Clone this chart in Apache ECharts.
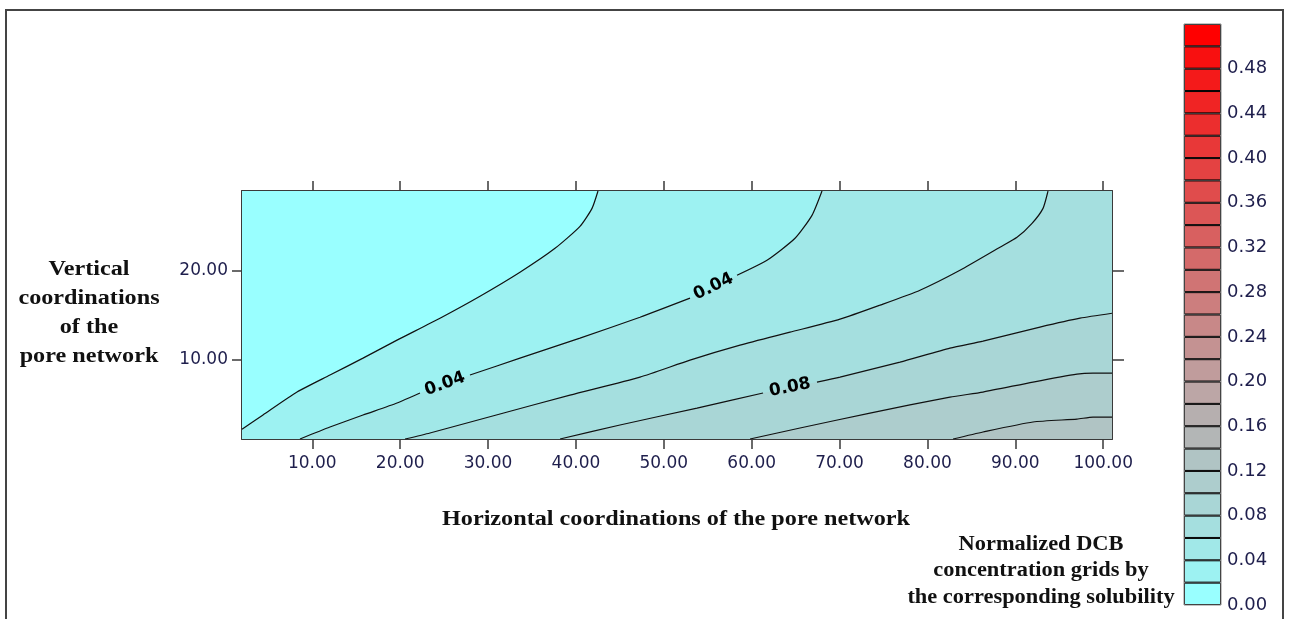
<!DOCTYPE html>
<html>
<head>
<meta charset="utf-8">
<script src="https://cdn.jsdelivr.net/npm/echarts@6/dist/echarts.min.js"></script>
<style>
html,body{margin:0;padding:0;background:#fff;}
#chart{width:1290px;height:619px;}
</style>
</head>
<body>
<div id="chart"></div>
<script>
// ---------- data ----------
const xRange = [2, 101];
const yRange = [1, 29];
const xTicks = [10, 20, 30, 40, 50, 60, 70, 80, 90, 100];
const yTicks = [10, 20];

const contourLevels = [0.02, 0.04, 0.06, 0.08, 0.10, 0.12];

// contour polylines [x, y] in data units; null marks a gap holding the contour label
const contour002 = [[2, 2.1], [4.39, 3.71], [8.26, 6.30], [12.01, 8.22], [15.77, 10.13], [19.64, 12.16],
  [24.53, 14.64], [29.08, 17.12], [33.63, 19.83], [37.62, 22.53], [40.46, 25.01], [41.83, 27.04], [42.51, 29]];
const contour004 = [[8.6, 1], [12.01, 2.35], [15.77, 3.71], [19.64, 5.06], [22.25, 6.19], null,
  [27.94, 8.22], [33.63, 10.13], [40.46, 12.39], [47.29, 14.75], [52.98, 16.90], null,
  [58.33, 19.49], [61.74, 21.18], [64.93, 23.66], [66.86, 26.25], [68.0, 29]];
const contour006 = [[20.55, 1], [23.39, 1.68], [31.36, 3.82], [39.32, 5.96], [47.29, 7.99], [52.98, 9.91],
  [58.67, 11.60], [64.36, 13.06], [70.05, 14.53], [74.60, 16.11], [79.15, 17.80], [83.70, 20.05],
  [88.25, 22.65], [90.19, 23.77], [91.90, 25.35], [93.15, 27.04], [93.72, 29]];
const contour008 = [[38.19, 1], [45.01, 2.58], [53.78, 4.49], [61.29, 6.19], null, [67.43, 7.43],
  [70.05, 7.99], [76.88, 9.68], [82.56, 11.26], [86.32, 12.05], [92.80, 13.63], [97.36, 14.64], [101, 15.2]];
const contour010 = [[59.81, 1], [65.50, 2.24], [73.46, 3.93], [82.56, 5.73], [86.32, 6.30], [92.01, 7.43],
  [97.02, 8.33], [98.84, 8.44], [101, 8.44]];
const contour012 = [[82.91, 1], [86.32, 1.79], [92.01, 2.92], [97.02, 3.25], [98.84, 3.48], [101, 3.48]];
const contours = [contour002, contour004, contour006, contour008, contour010, contour012];

// colour scale (bottom to top), boundaries every 0.02
const colorbarLevels = [0, 0.02, 0.04, 0.06, 0.08, 0.10, 0.12, 0.14, 0.16, 0.18, 0.20, 0.22, 0.24, 0.26,
  0.28, 0.30, 0.32, 0.34, 0.36, 0.38, 0.40, 0.42, 0.44, 0.46, 0.48, 0.50, 0.52];
const colorbarColors = ['#99FFFF', '#9DF2F2', '#A1E8E8', '#A5DFDF', '#A9D6D6', '#ADCDCD', '#B0C4C4',
  '#B3B6B6', '#B6AFAF', '#BCA6A6', '#C09C9C', '#C49292', '#C88888', '#CC7E7E', '#D07474', '#D46A6A',
  '#D86060', '#DC5656', '#E04C4C', '#E44242', '#E83838', '#EC2E2E', '#F02424', '#F41A1A', '#F81010', '#FF0000'];
const colorbarTicks = [0, 0.04, 0.08, 0.12, 0.16, 0.20, 0.24, 0.28, 0.32, 0.36, 0.40, 0.44, 0.48];

const xTitle = 'Horizontal coordinations of the pore network';
const yTitle = 'Vertical\ncoordinations\nof the\npore network';
const cbTitle = 'Normalized DCB\nconcentration grids by\nthe corresponding solubility';

// ---------- build ----------
const chart = echarts.init(document.getElementById('chart'), null, {renderer: 'canvas'});

const tickFont = {fontFamily: 'DejaVu Sans', fontSize: 17, color: '#1e1e4c'};
const axisLineStyle = {show: true, onZero: false, lineStyle: {color: '#3a3a3a', width: 2}};

// label anchors at gaps
const labelItems = [];
contours.forEach((c, ci) => {
  c.forEach((p, i) => {
    if (p === null) labelItems.push({a: c[i - 1], b: c[i + 1], text: contourLevels[ci].toFixed(2)});
  });
});

const lineSeries = [];
contours.forEach((c) => {
  let seg = [];
  const segs = [];
  c.forEach(p => { if (p === null) { segs.push(seg); seg = []; } else seg.push(p); });
  segs.push(seg);
  segs.forEach(s => lineSeries.push({
    type: 'line', xAxisIndex: 0, yAxisIndex: 0, data: s, symbol: 'none', silent: true, smooth: 0.2,
    lineStyle: {color: '#111', width: 1.2}, z: 5, animation: false
  }));
});

const fillSeries = {
  type: 'custom', xAxisIndex: 0, yAxisIndex: 0, clip: true, z: 2, silent: true,
  data: colorbarColors.slice(0, contours.length + 1).map((c, i) => [i]),
  encode: {x: 0, y: 0},
  renderItem: function (params, api) {
    const k = params.dataIndex;
    let pts;
    if (k === 0) {
      pts = [[xRange[0], yRange[0]], [xRange[0], yRange[1]], [xRange[1], yRange[1]], [xRange[1], yRange[0]]];
    } else {
      const c = contours[k - 1].filter(p => p !== null);
      pts = c.slice();
      const last = c[c.length - 1], first = c[0];
      if (last[1] >= yRange[1]) pts.push([xRange[1], yRange[1]]);
      pts.push([xRange[1], yRange[0]]);
      if (first[0] <= xRange[0]) pts.push([xRange[0], yRange[0]]);
    }
    return {
      type: 'polygon',
      shape: {points: pts.map(p => api.coord(p))},
      style: {fill: colorbarColors[k], stroke: null}
    };
  }
};

const labelSeries = {
  type: 'custom', xAxisIndex: 0, yAxisIndex: 0, clip: false, z: 6, silent: true,
  data: labelItems.map((l, i) => [i]),
  encode: {x: 0, y: 0},
  renderItem: function (params, api) {
    const l = labelItems[params.dataIndex];
    const p1 = api.coord(l.a), p2 = api.coord(l.b);
    const ang = -Math.atan2(p2[1] - p1[1], p2[0] - p1[0]);
    return {
      type: 'text', x: (p1[0] + p2[0]) / 2, y: (p1[1] + p2[1]) / 2, rotation: ang,
      style: {text: l.text, fill: '#000', font: 'bold 17px "DejaVu Sans"', align: 'center', verticalAlign: 'middle'}
    };
  }
};

const cbSeries = colorbarColors.map((col, i) => ({
  type: 'bar', xAxisIndex: 1, yAxisIndex: 2, stack: 'cb', barWidth: '100%', silent: true,
  data: [colorbarLevels[i + 1] - colorbarLevels[i]],
  itemStyle: {color: col, borderColor: '#000', borderWidth: 1},
  animation: false
}));

const option = {
  animation: false,
  backgroundColor: '#fff',
  grid: [
    {left: 242, top: 191, width: 870, height: 248, containLabel: false},
    {left: 1184, top: 24, width: 37, height: 581, containLabel: false}
  ],
  xAxis: [
    {type: 'value', gridIndex: 0, position: 'bottom', min: xRange[0], max: xRange[1],
      axisLine: axisLineStyle, splitLine: {show: false},
      axisTick: {show: true, customValues: xTicks, length: 10, lineStyle: {color: '#3a3a3a', width: 1.5}},
      axisLabel: Object.assign({show: true, customValues: xTicks, margin: 16, formatter: v => v.toFixed(2)}, tickFont)},
    {type: 'category', gridIndex: 1, data: ['cb'], show: false},
    {type: 'value', gridIndex: 0, position: 'top', min: xRange[0], max: xRange[1],
      axisLine: axisLineStyle, splitLine: {show: false},
      axisTick: {show: true, customValues: xTicks, length: 10, lineStyle: {color: '#3a3a3a', width: 1.5}},
      axisLabel: {show: false}}
  ],
  yAxis: [
    {type: 'value', gridIndex: 0, position: 'left', min: yRange[0], max: yRange[1],
      axisLine: axisLineStyle, splitLine: {show: false},
      axisTick: {show: true, customValues: yTicks, length: 10, lineStyle: {color: '#3a3a3a', width: 1.5}},
      axisLabel: Object.assign({show: true, customValues: yTicks, margin: 14, formatter: v => v.toFixed(2)}, tickFont)},
    {type: 'value', gridIndex: 0, position: 'right', min: yRange[0], max: yRange[1],
      axisLine: axisLineStyle, splitLine: {show: false},
      axisTick: {show: true, customValues: yTicks, length: 12, lineStyle: {color: '#3a3a3a', width: 1.5}},
      axisLabel: {show: false}},
    {type: 'value', gridIndex: 1, position: 'right', min: colorbarLevels[0], max: colorbarLevels[colorbarLevels.length - 1],
      axisLine: {show: false}, axisTick: {show: false}, splitLine: {show: false},
      axisLabel: {show: true, customValues: colorbarTicks, margin: 6, formatter: v => v.toFixed(2),
        fontFamily: 'DejaVu Sans', fontSize: 18, color: '#1e1e4c'}}
  ],
  graphic: [
    {type: 'rect', shape: {x: 6, y: 10, width: 1277, height: 640}, style: {fill: 'none', stroke: '#444', lineWidth: 2}, silent: true},
    {type: 'rect', shape: {x: 1184, y: 24, width: 37, height: 581}, style: {fill: 'none', stroke: '#888', lineWidth: 1}, z: 100, silent: true},
    {type: 'text', x: 676, y: 520, scaleX: 1.21, style: {text: xTitle, font: 'bold 20px "Liberation Serif"', fill: '#111', align: 'center', verticalAlign: 'middle'}},
    {type: 'text', x: 89, y: 313, scaleX: 1.21, style: {text: yTitle, font: 'bold 20px "Liberation Serif"', fill: '#111', align: 'center', verticalAlign: 'middle', lineHeight: 29}},
    {type: 'text', x: 1041, y: 571, scaleX: 1.12, style: {text: cbTitle, font: 'bold 20px "Liberation Serif"', fill: '#111', align: 'center', verticalAlign: 'middle', lineHeight: 26.5}}
  ],
  series: [fillSeries].concat(lineSeries, [labelSeries], cbSeries)
};
chart.setOption(option);
</script>
</body>
</html>
